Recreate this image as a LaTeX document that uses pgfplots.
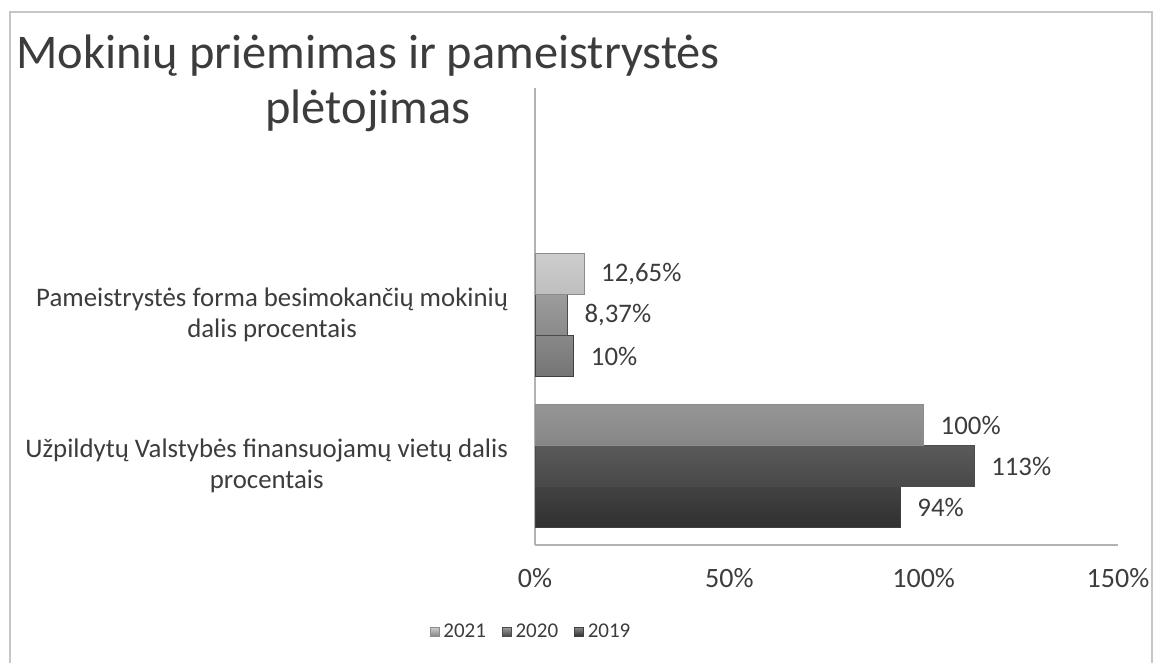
\documentclass[border=0pt]{standalone}
\usepackage{fontspec}
\setmainfont{Carlito}
\usepackage{pgfplots}
\pgfplotsset{compat=1.18}
\definecolor{txt}{HTML}{3C3C3C}
\definecolor{aTop}{HTML}{CDCDCD}
\definecolor{aBot}{HTML}{868686}
\definecolor{bTop}{HTML}{9C9C9C}
\definecolor{bBot}{HTML}{484848}
\definecolor{cTop}{HTML}{888888}
\definecolor{cBot}{HTML}{303030}
\begin{document}
\begin{tikzpicture}
% 1 px of the reference = 0.5pt
\path[use as bounding box] (0pt,0pt) rectangle (580pt,-331.5pt);
\draw[gray!45, line width=1.2pt] (5pt,-331.5pt) -- (5pt,-6pt) -- (576pt,-6pt) -- (576pt,-331.5pt);
\node[align=center, text=txt, font=\fontsize{24.2}{27.5}\selectfont] at (184pt,-41.5pt)
  {Mokinių priėmimas ir pameistrystės\\plėtojimas};
\begin{axis}[
  at={(267.5pt,-272.5pt)}, anchor=south west,
  scale only axis, width=291.5pt, height=228.5pt,
  xbar=0pt, bar width=20.5pt,
  xmin=0, xmax=150, ymin=-0.52, ymax=2.5,
  axis x line*=bottom, axis y line*=left,
  axis line style={gray!60, -, line width=0.8pt},
  major tick length=0pt,
  xtick={0,50,100,150},
  xticklabel={\pgfmathprintnumber{\tick}\%},
  xticklabel style={yshift=-8pt, font=\fontsize{14}{16}\selectfont},
  ytick={0,1},
  yticklabels={{Užpildytų Valstybės finansuojamų vietų dalis\\procentais},
               {Pameistrystės forma besimokančių mokinių\\dalis procentais}},
  yticklabel style={align=center, xshift=-10pt, font=\fontsize{13.4}{15.5}\selectfont},
  tick label style={text=txt},
  /pgf/number format/assume math mode=true,
  point meta=x,
  nodes near coords={\pgfmathprintnumber[use comma,precision=2]{\pgfplotspointmeta}\%},
  nodes near coords style={font=\fontsize{13.4}{15}\selectfont, text=txt, xshift=5pt},
  legend columns=-1, reverse legend,
  legend style={at={(-0.005,-0.19)}, anchor=center, draw=none, fill=none,
    font=\fontsize{10.5}{12}\selectfont, text=txt, inner sep=1pt,
    /tikz/every even column/.append style={column sep=6pt}},
  legend image code/.code={\draw[#1] (0pt,-2.2pt) rectangle (4.4pt,2.2pt);},
]
\addplot[draw=black!75, top color=cTop, bottom color=cBot] coordinates {(94,0) (10,1)};
\addplot[draw=black!70, top color=bTop, bottom color=bBot] coordinates {(113,0) (8.37,1)};
\addplot[draw=black!45, top color=aTop, bottom color=aBot] coordinates {(100,0) (12.65,1)};
\legend{2019,2020,2021}
\end{axis}
\end{tikzpicture}
\end{document}
